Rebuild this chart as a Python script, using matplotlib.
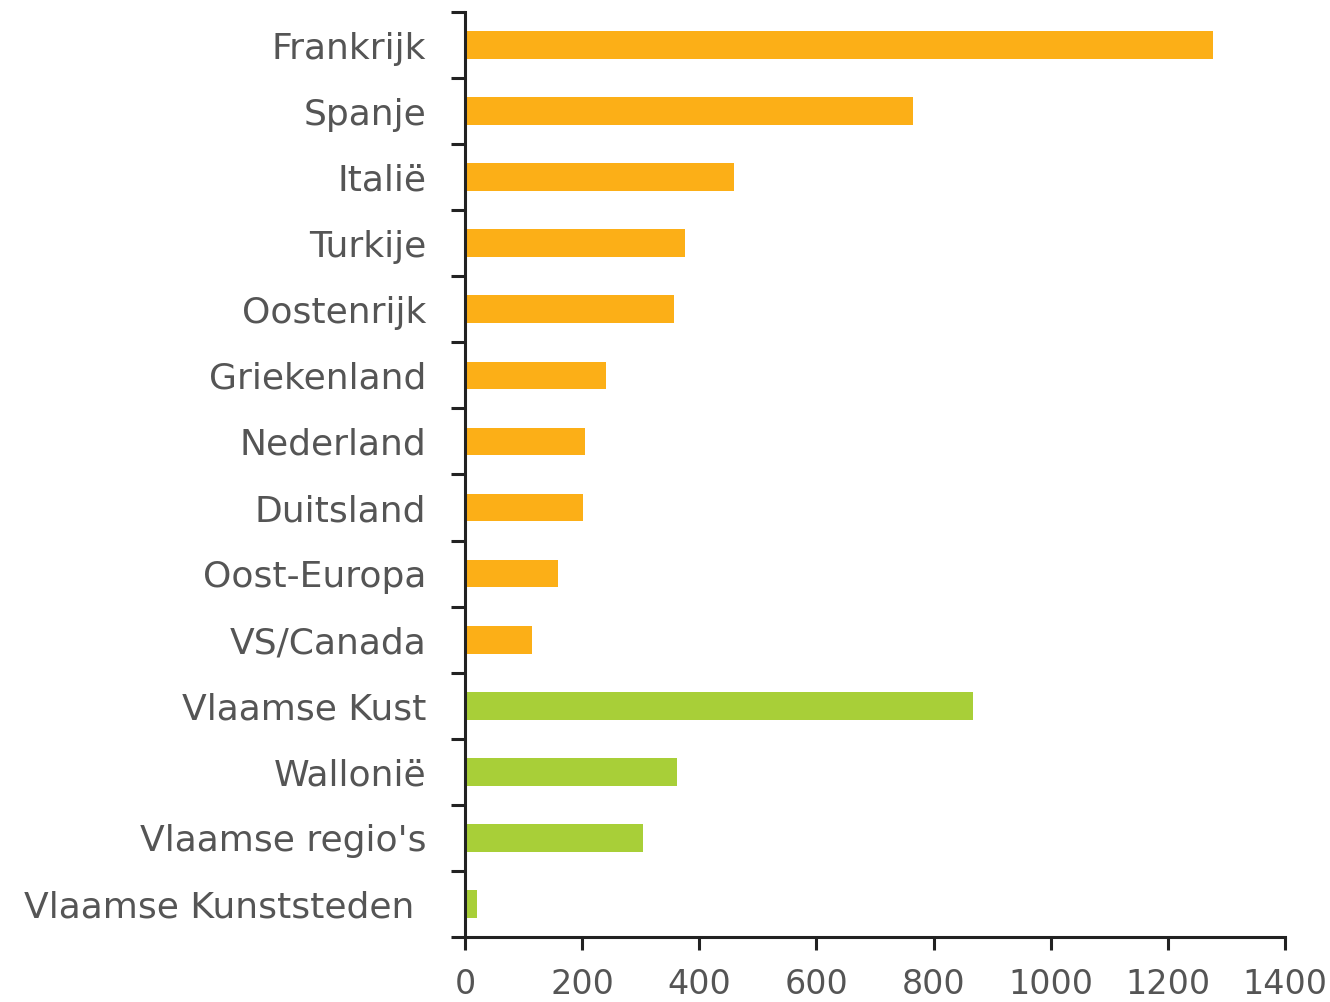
import numpy as np
import matplotlib.pyplot as plt

# --------------------------
# Data
# --------------------------
bestemmingen = ["Frankrijk", "Spanje", "Italië", "Turkije", "Oostenrijk",
                "Griekenland", "Nederland", "Duitsland", "Oost-Europa",
                "VS/Canada", "Vlaamse Kust", "Wallonië", "Vlaamse regio's",
                "Vlaamse Kunststeden "]
waarden = [1277, 765, 459, 376, 357, 241, 205, 201, 159, 114,
           867, 362, 304, 21]
groep = ["buitenland"] * 10 + ["binnenland"] * 4

KLEUREN = {"buitenland": "#FCAF17", "binnenland": "#A8CF38"}
TEKST = "#555555"
AS = "#222222"

plt.rcParams['font.family'] = ['DejaVu Sans']

fig = plt.figure(figsize=(13.3, 10.02), dpi=100)
ax = fig.add_axes([0.3496, 0.0649, 0.6166, 0.9231])

y = np.arange(len(bestemmingen))
ax.barh(y, waarden, height=0.42, color=[KLEUREN[g] for g in groep])

ax.set_ylim(len(bestemmingen) - 0.5, -0.5)
ax.set_xlim(0, 1400)

# grenzen tussen categorieën als ticks, labels in het midden
ax.set_yticks(np.arange(len(bestemmingen) + 1) - 0.5)
ax.set_yticklabels([])
ax.set_yticks(y, minor=True)
ax.set_yticklabels(bestemmingen, minor=True)
ax.tick_params(axis='y', which='major', length=10, width=2.2, color=AS)
ax.tick_params(axis='y', which='minor', length=0, pad=28,
               labelsize=26, labelcolor=TEKST)

ax.set_xticks(np.arange(0, 1401, 200))
ax.tick_params(axis='x', length=9, width=2.2, color=AS, pad=13,
               labelsize=24, labelcolor=TEKST)

for s in ['top', 'right']:
    ax.spines[s].set_visible(False)
for s in ['left', 'bottom']:
    ax.spines[s].set_linewidth(2.2)
    ax.spines[s].set_color(AS)

fig.savefig("out.png", dpi=100)
